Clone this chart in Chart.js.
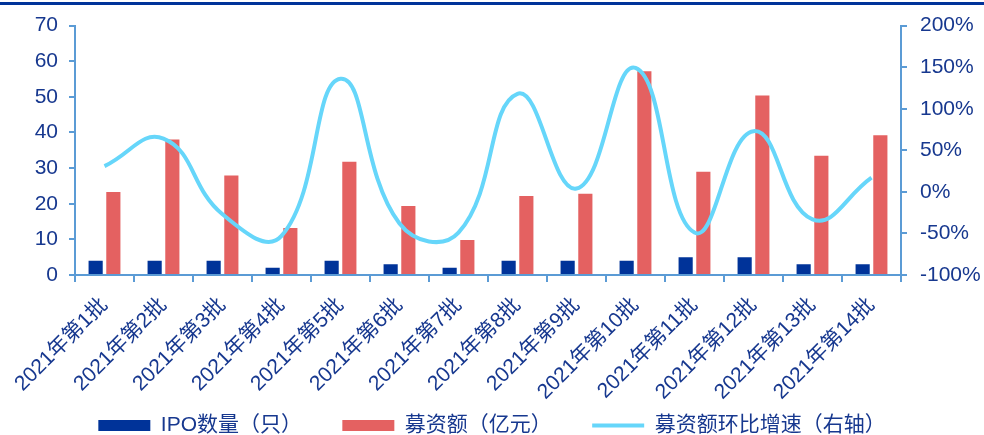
<!DOCTYPE html>
<html>
<head>
<meta charset="utf-8">
<script src="https://cdn.jsdelivr.net/npm/chart.js@4"></script>
<style>
  html, body { margin: 0; padding: 0; background: #fff; }
  #wrap { width: 984px; height: 435px; position: relative; }
</style>
</head>
<body>
<div id="wrap"><canvas id="ipoChart"></canvas></div>
<script>
// 2021 batches of IPO approvals
const batches = ['2021年第1批', '2021年第2批', '2021年第3批', '2021年第4批', '2021年第5批',
    '2021年第6批', '2021年第7批', '2021年第8批', '2021年第9批', '2021年第10批',
    '2021年第11批', '2021年第12批', '2021年第13批', '2021年第14批'];
const ipoCount = [4, 4, 4, 2, 4, 3, 2, 4, 4, 4, 5, 5, 3, 3];
const raisedAmount = [23.3, 38.0, 27.9, 13.2, 31.8, 19.4, 9.8, 22.2, 22.8, 57.2, 29.0, 50.4, 33.5, 39.2];
const raisedGrowth = [31, 64, -27, -53, 136, -38, -49, 118, 4, 149, -49, 73, -33, 17];

const leftAxis = { min: 0, max: 70, step: 10 };
const rightAxis = { min: -100, max: 200, step: 50 };

const textColor = '#17388f';
const axisColor = '#5b9bd5';
const fontFamily = '"Liberation Sans", Arial, "Noto Sans CJK SC", sans-serif';

// thin dark-blue rule along the top of the picture
const topRule = {
    id: 'topRule',
    beforeDraw(chart) {
        const ctx = chart.ctx;
        ctx.save();
        ctx.fillStyle = '#003399';
        ctx.fillRect(0, 2, chart.width, 3);
        ctx.restore();
    }
};

const ctx = document.getElementById('ipoChart').getContext('2d');
const chart = new Chart(ctx, {
    type: 'bar',
    data: {
        labels: batches,
        datasets: [{
            label: 'IPO数量（只）',
            data: ipoCount,
            backgroundColor: '#003399',
            yAxisID: 'y',
            pointStyle: 'rect',
            order: 2
        }, {
            label: '募资额（亿元）',
            data: raisedAmount,
            backgroundColor: '#e46161',
            yAxisID: 'y',
            pointStyle: 'rect',
            order: 2
        }, {
            type: 'line',
            label: '募资额环比增速（右轴）',
            data: raisedGrowth,
            borderColor: '#66d6fa',
            backgroundColor: '#66d6fa',
            borderWidth: 4,
            pointRadius: 0,
            pointStyle: 'line',
            tension: 0.45,
            yAxisID: 'y1',
            order: 1
        }]
    },
    options: {
        responsive: true,
        maintainAspectRatio: false,
        animation: false,
        // legend sits low, so let its empty bottom margin hang off the canvas
        layout: { padding: { top: 13, left: 0, right: 0, bottom: -11 } },
        datasets: {
            bar: { categoryPercentage: 0.6, barPercentage: 0.8 }
        },
        plugins: {
            tooltip: { enabled: false },
            legend: {
                position: 'bottom',
                labels: {
                    usePointStyle: true,
                    pointStyleWidth: 52,
                    boxHeight: 11,
                    padding: 3,
                    color: textColor,
                    font: { family: fontFamily, size: 21 },
                    sort: (a, b) => a.datasetIndex - b.datasetIndex,
                    generateLabels(chart) {
                        const items = Chart.defaults.plugins.legend.labels.generateLabels(chart);
                        // extra room after the first two entries
                        items.forEach(item => {
                            if (item.datasetIndex < 2) item.text = item.text + '　　 ';
                        });
                        return items;
                    }
                }
            }
        },
        scales: {
            x: {
                afterFit(scale) { scale.height = 137; },
                grid: { display: true, drawOnChartArea: false, color: axisColor, lineWidth: 2, tickLength: 7 },
                border: { color: axisColor, width: 2 },
                ticks: {
                    color: textColor,
                    font: { family: fontFamily, size: 21 },
                    minRotation: 45,
                    maxRotation: 45,
                    autoSkip: false,
                    padding: 11
                }
            },
            y: {
                position: 'left',
                min: leftAxis.min,
                max: leftAxis.max,
                afterFit(scale) { scale.width = 75; },
                grid: { display: true, drawOnChartArea: false, color: axisColor, lineWidth: 2, tickLength: 6 },
                border: { color: axisColor, width: 2 },
                ticks: {
                    stepSize: leftAxis.step,
                    color: textColor,
                    padding: 11,
                    font: { family: fontFamily, size: 21 }
                }
            },
            y1: {
                position: 'right',
                min: rightAxis.min,
                max: rightAxis.max,
                afterFit(scale) { scale.width = 83; },
                grid: { display: true, drawOnChartArea: false, color: axisColor, lineWidth: 2, tickLength: 6 },
                border: { color: axisColor, width: 2 },
                ticks: {
                    stepSize: rightAxis.step,
                    color: textColor,
                    padding: 13,
                    font: { family: fontFamily, size: 21 },
                    callback: v => v + '%'
                }
            }
        }
    },
    plugins: [topRule]
});
</script>
</body>
</html>
